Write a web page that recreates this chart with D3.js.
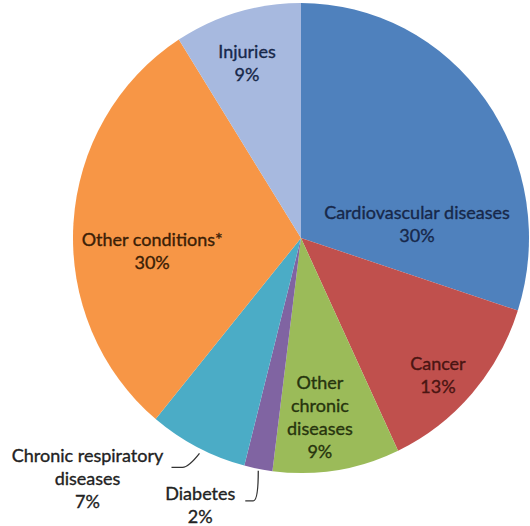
<!DOCTYPE html>
<html>
<head>
<meta charset="utf-8">
<script src="https://cdn.jsdelivr.net/npm/d3@7"></script>
<style>
  html, body { margin: 0; padding: 0; background: #fff; }
  svg { display: block; }
  text { font-family: Lato, "Open Sans", "DejaVu Sans", sans-serif; }
</style>
</head>
<body>
<svg id="chart" width="530" height="526"></svg>
<script>
// Share of deaths by cause (percent), clockwise from 12 o'clock
const causes = ["Cardiovascular diseases", "Cancer", "Other chronic diseases", "Diabetes",
                "Chronic respiratory diseases", "Other conditions*", "Injuries"];
const shares = [30, 13, 9, 2, 7, 30, 9];
const sliceColors = ["#4f81bd", "#c0504d", "#9bbb59", "#8064a2", "#4bacc6", "#f79646", "#a7b9df"];
const textColors = ["#17284a", "#4a1512", "#27340e", "#222", "#222", "#3a2006", "#17284a"];
// Label lines per slice (value line is appended)
const labelLines = [
  ["Cardiovascular diseases"],
  ["Cancer"],
  ["Other", "chronic", "diseases"],
  ["Diabetes"],
  ["Chronic respiratory", "diseases"],
  ["Other conditions*"],
  ["Injuries"]
];

const svg = d3.select("#chart");
const cx = 301, cy = 238, rx = 228, ry = 235;

// Pie drawn at radius rx and stretched slightly vertically
const pieG = svg.append("g")
  .attr("transform", `translate(${cx},${cy}) scale(1,${ry / rx})`);
const labelG = svg.append("g").attr("transform", `translate(${cx},${cy})`);

const pie = d3.pie().sort(null).value(d => d)(shares);
const arc = d3.arc().innerRadius(0).outerRadius(rx);

pieG.selectAll("path.slice")
  .data(pie)
  .join("path")
  .attr("class", "slice")
  .attr("d", arc)
  .attr("fill", (d, i) => sliceColors[i]);

// Inside labels: polar placement (degrees clockwise from 12 o'clock, fraction of radius)
const insidePos = {
  0: { deg: 83.1, rf: 0.508 },
  1: { deg: 135.0, rf: 0.842 },
  2: { deg: 174.0, rf: 0.785 },
  5: { deg: 264.8, rf: 0.650 },
  6: { deg: 342.8, rf: 0.794 }
};
// Outside labels: offset of the first line from the slice's rim midpoint,
// leader line start / corner relative to the first line, end relative to the rim point
const outsidePos = {
  3: { dx: -58, dy: 25, start: [45, 7], corner: [53, 7], end: [0, 2] },
  4: { dx: -110, dy: 8, start: [84, 12], corner: [95, 12], end: [2, 6] }
};
const lineH = 23;
const fontSize = 18;
const R = 230;

pie.forEach((d, i) => {
  const lines = labelLines[i].concat([shares[i] + "%"]);
  let x, yTop;
  if (insidePos[i]) {
    const a = insidePos[i].deg * Math.PI / 180;
    const rr = R * insidePos[i].rf;
    x = rr * Math.sin(a);
    const ym = -rr * Math.cos(a);
    yTop = ym - (lines.length - 1) * lineH / 2;
  } else {
    const a = (d.startAngle + d.endAngle) / 2;
    const ex = rx * Math.sin(a), ey = -ry * Math.cos(a);
    const o = outsidePos[i];
    x = ex + o.dx;
    yTop = ey + o.dy;
    const x0 = x + o.start[0], y0 = yTop + o.start[1];
    const x1 = x + o.corner[0], y1 = yTop + o.corner[1];
    const x2 = ex + o.end[0], y2 = ey + o.end[1];
    const p = d3.path();
    p.moveTo(x0, y0);
    p.lineTo(x1, y1);
    if (i === 3) {
      p.quadraticCurveTo(x2, y1, x2, y2);
    } else {
      p.quadraticCurveTo(x1 + 6, y1, x2, y2);
    }
    labelG.append("path").attr("d", p.toString())
      .attr("fill", "none").attr("stroke", "#333").attr("stroke-width", 1.3);
  }
  const t = labelG.append("text")
    .attr("text-anchor", "middle")
    .attr("font-size", fontSize)
    .attr("fill", textColors[i])
    .attr("stroke", textColors[i])
    .attr("stroke-width", 0.35);
  lines.forEach((s, k) => {
    t.append("tspan").attr("x", x).attr("y", yTop + k * lineH)
      .attr("dy", "0.35em").text(s);
  });
});
</script>
</body>
</html>
